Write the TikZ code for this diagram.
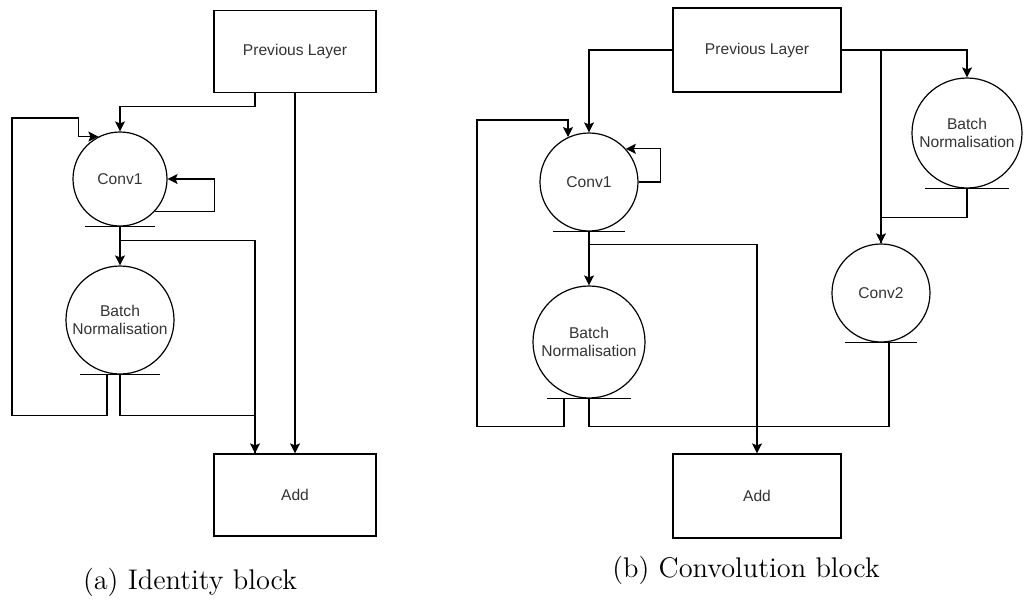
\documentclass[tikz,border=0pt]{standalone}
\usepackage{fontspec}
\newfontfamily\diafont{Liberation Sans}
\usetikzlibrary{arrows.meta}
\tikzset{
	layer/.style={draw, rectangle, minimum width=81pt, minimum height=41pt, inner sep=0pt, font=\diafont\fontsize{7.8}{9}\selectfont, text=black!80},
	unit/.style={draw, circle, inner sep=0pt, align=center, font=\diafont\fontsize{7.8}{9}\selectfont, text=black!80},
	arr/.style={-{Stealth[length=5pt, width=5pt, inset=1pt]}},
	caption/.style={font=\fontsize{14.2}{17}\selectfont}
}

\begin{document}
\begin{tikzpicture}[x=0.5pt, y=-0.5pt, line width=0.6pt]
	\useasboundingbox (0,0) rectangle (1025,601);
	\node[layer] (prevA) at (295,51.5) {Previous Layer};
	\node[unit, minimum size=47pt] (convA) at (120,179) {Conv1};
	\node[unit, minimum size=54pt] (bnA) at (120,320) {Batch\\Normalisation};
	\node[layer] (addA) at (295,495) {Add};
	\node[caption] (capA) at (190,582) {(a) Identity block};
	\coordinate (loopA) at (12,118);
	\draw ([xshift=-17.5pt]convA.south) -- ([xshift=17.5pt]convA.south);
	\draw ([xshift=-20pt]bnA.south) -- ([xshift=20pt]bnA.south);
	\draw[arr] ([xshift=-20pt]prevA.south) -- ++(0,13) -| (convA.north);
	\draw[arr] (prevA.south) -- (addA.north);
	\draw[arr] (convA.-43) -| ([xshift=23.5pt]convA.east) -- (convA.east);
	\draw[arr] ([xshift=-6.5pt]bnA.south) -- ++(0,41) -| (loopA) -| ([xshift=-10pt]convA.117) -- (convA.117);
	\draw[arr] (convA.south) -- (bnA.north);
	\draw[arr] (convA.south) -- ++(0,14) -| ([xshift=-20pt]addA.north);
	\draw (bnA.south) -- ++(0,41) -| ([xshift=-20pt]addA.north);

	\node[layer, minimum width=84pt, minimum height=42pt] (prevB) at (757,50) {Previous Layer};
	\node[unit, minimum size=49pt] (convB) at (589,182) {Conv1};
	\node[unit, minimum size=56pt] (bnB) at (589,342) {Batch\\Normalisation};
	\node[unit, minimum size=55pt] (bnC) at (967,133) {Batch\\Normalisation};
	\node[unit, minimum size=49pt] (conv2) at (881,293) {Conv2};
	\node[layer, minimum width=84pt, minimum height=42pt] (addB) at (757,496) {Add};
	\node[caption] (capB) at (746,570) {(b) Convolution block};
	\coordinate (loopB) at (477,120);
	\draw ([xshift=-18pt]convB.south) -- ([xshift=18pt]convB.south);
	\draw ([xshift=-21pt]bnB.south) -- ([xshift=21pt]bnB.south);
	\draw ([xshift=-21pt]bnC.south) -- ([xshift=21pt]bnC.south);
	\draw ([xshift=-18pt]conv2.south) -- ([xshift=18pt]conv2.south);
	\draw[arr] (prevB.west) -| (convB.north);
	\draw[arr] (prevB.east) -| (bnC.north);
	\draw[arr] (prevB.east -| conv2.north) -- (conv2.north);
	\draw (bnC.south) -- ++(0,29) -| (conv2.north);
	\draw[arr] (convB.east) -- ++(22,0) |- (convB.42);
	\draw[arr] (convB.south) -- (bnB.north);
	\draw[arr] (convB.south) -- ++(0,13) -| (addB.north);
	\draw[arr] ([xshift=-12.5pt]bnB.south) -- ++(0,28) -| (loopB) -| (convB.115);
	\draw (bnB.south) -- ++(0,28) -| ([xshift=4pt]conv2.south);
\end{tikzpicture}
\end{document}
